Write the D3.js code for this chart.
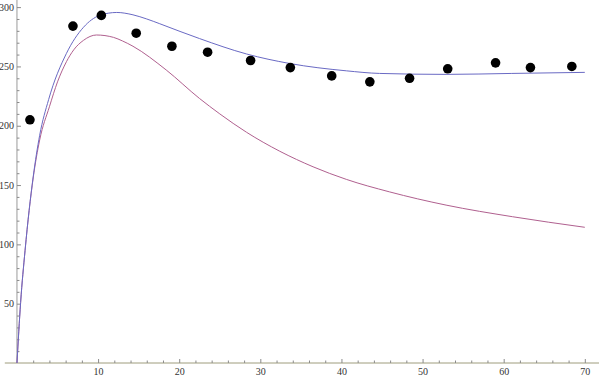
<!DOCTYPE html>
<html>
<head>
<meta charset="utf-8">
<script src="https://cdn.jsdelivr.net/npm/d3@7"></script>
<style>
  body { margin: 0; background: #fff; }
  text { font-family: "Liberation Serif", "DejaVu Serif", serif; font-size: 10px; fill: #333; }
</style>
</head>
<body>
<div id="chart"></div>
<script>
// Measured points (black dots)
const dotX = [1.6, 6.9, 10.4, 14.7, 19.1, 23.5, 28.8, 33.7, 38.8, 43.5, 48.4, 53.1, 59.0, 63.3, 68.4];
const dotY = [205, 284, 293, 278, 267, 262, 255, 249, 242, 237, 240, 248, 253, 249, 250];

// Fitted curve (blue)
const fitX = [0, 0.45, 1.0, 2.0, 2.8, 3.9, 6.1, 8.2, 10.2, 12.3, 14.3, 16.0, 17.6, 20.1, 22.5, 28.3, 33.6, 40.6, 44.7, 52.9, 61.0, 70];
const fitY = [0, 51, 95, 157, 192, 222, 261, 283, 293, 295.5, 293.5, 290, 286, 279.5, 273.5, 260.5, 252.5, 246.3, 244.1, 243.3, 244.1, 245];

// Second curve (red)
const altX = [0, 0.45, 1.0, 2.0, 2.8, 4.0, 5.0, 6.1, 7.0, 8.2, 9.8, 11.9, 13.0, 14.3, 18.4, 22.5, 25, 28.3, 32.4, 36.5, 40.6, 45.9, 52.9, 61.1, 70];
const altY = [0, 51, 95, 156, 188, 216, 237, 254, 264, 272, 276.5, 274.5, 271.5, 267, 247, 223, 210, 194.5, 178.5, 165.4, 154.8, 144.3, 133.1, 123.3, 114.4];

// Tick values
const xMajor = [10, 20, 30, 40, 50, 60, 70];
const yMajor = [50, 100, 150, 200, 250, 300];

const W = 599, H = 379;
const svg = d3.select("#chart").append("svg").attr("width", W).attr("height", H);

const x = d3.scaleLinear().domain([-1.5, 71.75]).range([4.8, 599]);
const y = d3.scaleLinear().domain([0, 306]).range([363, 0]);

const xMinor = d3.range(2, 72, 2).filter(v => v % 10 !== 0);
const yMinor = d3.range(10, 306, 10).filter(v => v % 50 !== 0);

// x axis
const gx = svg.append("g").attr("transform", `translate(0,${y(0)})`);
gx.call(d3.axisBottom(x).tickValues(xMajor).tickSize(-4).tickPadding(5).tickFormat(d3.format("d")));
gx.append("g").call(d3.axisBottom(x).tickValues(xMinor).tickSize(-2.5).tickFormat(""))
  .select(".domain").remove();
gx.select(".domain").attr("d", `M${x(-1.5)},0H${x(71.75)}`).attr("stroke", "#9e9c7c");
gx.selectAll(".tick line").attr("stroke", "#8a8a8a");
gx.selectAll(".tick text").attr("fill", "#333");

// y axis
const gy = svg.append("g").attr("transform", `translate(${x(0)},0)`);
gy.call(d3.axisLeft(y).tickValues(yMajor).tickSize(-4).tickPadding(3).tickFormat(d3.format("d")));
gy.append("g").call(d3.axisLeft(y).tickValues(yMinor).tickSize(-2.5).tickFormat(""))
  .select(".domain").remove();
gy.select(".domain").attr("d", `M0,${y(0)}V${y(306)}`).attr("stroke", "#9a9a9a");
gy.selectAll(".tick line").attr("stroke", "#8a8a8a");
gy.selectAll(".tick text").attr("fill", "#333");
svg.selectAll("text").style("font-family", '"Liberation Serif", serif').style("font-size", "10px");

const line = d3.line().x(d => x(d[0])).y(d => y(d[1])).curve(d3.curveMonotoneX);

svg.append("path")
  .datum(altX.map((v, i) => [v, altY[i]]))
  .attr("d", line)
  .attr("fill", "none")
  .attr("stroke", "#b0608f")
  .attr("stroke-width", 1);

svg.append("path")
  .datum(fitX.map((v, i) => [v, fitY[i]]))
  .attr("d", line)
  .attr("fill", "none")
  .attr("stroke", "#6a6ac4")
  .attr("stroke-width", 1);

svg.selectAll("circle.dot")
  .data(dotX.map((v, i) => [v, dotY[i]]))
  .join("circle")
  .attr("class", "dot")
  .attr("cx", d => x(d[0]))
  .attr("cy", d => y(d[1]))
  .attr("r", 4.8)
  .attr("fill", "#000");
</script>
</body>
</html>
